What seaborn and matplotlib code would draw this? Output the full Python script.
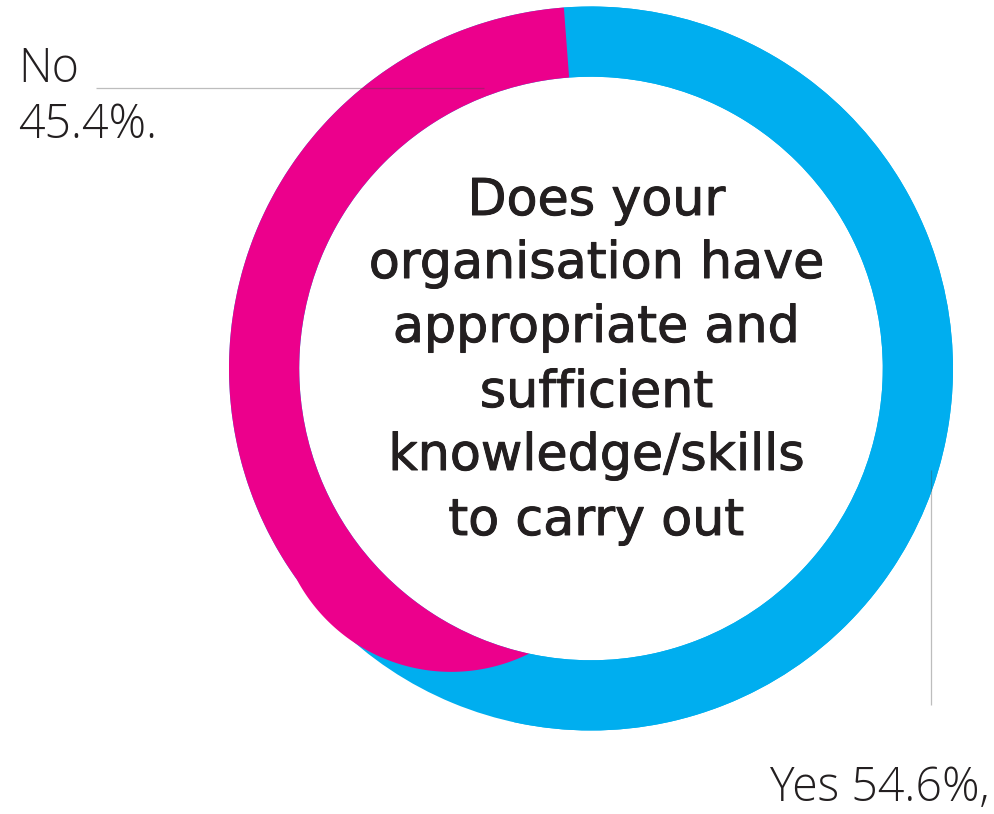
import numpy as np
import matplotlib
matplotlib.use("Agg")
import matplotlib.pyplot as plt
import matplotlib.patheffects as pe
from matplotlib.path import Path
import seaborn as sns

# Survey answers
categories = ["Yes", "No"]
shares = [54.6, 45.4]
slice_colors = ["#00AEEF", "#EC008C"]
answer_labels = ["Yes 54.6%,", "No", "45.4%."]
question_lines = [
    "Does your",
    "organisation have",
    "appropriate and",
    "sufficient",
    "knowledge/skills",
    "to carry out",
]

sns.set_theme(style="white")
plt.rcParams["font.family"] = ["DejaVu Sans"]

W, H, DPI = 994, 814, 100
CX, CY, RPX = 591.0, 368.5, 362.0   # ring centre and outer radius in pixels
TEXT = "#231F20"


def X(px):
    return (px - CX) / RPX


def Y(py):
    return (CY - py) / RPX


fig = plt.figure(figsize=(W / DPI, H / DPI), dpi=DPI)
fig.patch.set_facecolor("white")
ax = fig.add_axes([0, 0, 1, 1])

RING = 0.194
START = 94.3

# whole sample as the base ring
ax.pie([sum(shares)], colors=[slice_colors[0]], radius=1.0, startangle=START,
       wedgeprops=dict(width=RING, linewidth=0))
wedges, _ = ax.pie(shares, colors=slice_colors, radius=1.0, startangle=START,
                   counterclock=False, wedgeprops=dict(width=RING, linewidth=0))

# the "No" slice tapers off towards its end
no_wedge = wedges[1]
theta_end = START + 360.0 * shares[1] / sum(shares)
theta_kink = 215.6
tail_r = 0.484
inner = 1.0 - RING
p1 = np.array([np.cos(np.radians(theta_kink)), np.sin(np.radians(theta_kink))])
p2 = inner * np.array([np.cos(np.radians(theta_end)), np.sin(np.radians(theta_end))])
mid = (p1 + p2) / 2
d = np.linalg.norm(p2 - p1)
u = (p2 - p1) / d
n = np.array([-u[1], u[0]])
h = np.sqrt(tail_r ** 2 - (d / 2) ** 2)
c = min([mid + h * n, mid - h * n], key=np.linalg.norm)
a1 = np.degrees(np.arctan2(p1[1] - c[1], p1[0] - c[0]))
a2 = np.degrees(np.arctan2(p2[1] - c[1], p2[0] - c[0]))
while a2 < a1:
    a2 += 360
sec = np.radians(np.linspace(START - 3, theta_kink, 200))
tail = np.radians(np.linspace(a1, a2 + 25, 200))
pts = [(0.0, 0.0)]
pts += list(zip(np.cos(sec), np.sin(sec)))
pts += list(zip(c[0] + tail_r * np.cos(tail), c[1] + tail_r * np.sin(tail)))
pts.append((0.0, 0.0))
clip = Path(pts, closed=True)
no_wedge.set_radius(1.035)
no_wedge.set_width(1.035 - inner)
no_wedge.set_clip_on(True)
no_wedge.set_clip_path(clip, ax.transData)

# question in the middle of the ring
baselines = [215, 278, 342, 407, 470, 535]
for line, yb in zip(question_lines, baselines):
    ax.text(X(596.5), Y(yb), line, ha="center", va="baseline", fontsize=36.5,
            color=TEXT, family=["DejaVu Sans"],
            path_effects=[pe.withStroke(linewidth=0.7, foreground=TEXT)])

# answer labels with leader lines
lab_font = dict(family=["Open Sans", "DejaVu Sans"], fontweight="light", color=TEXT)
ax.text(X(18), Y(82), answer_labels[1], ha="left", va="baseline", fontsize=33.5, **lab_font)
ax.text(X(18), Y(138), answer_labels[2], ha="left", va="baseline", fontsize=33.5, **lab_font)
ax.text(X(990), Y(801), answer_labels[0], ha="right", va="baseline", fontsize=33.5, **lab_font)
ax.plot([X(96), X(484)], [Y(88.3), Y(88.3)], color="#444444", alpha=0.35, lw=0.9,
        solid_capstyle="butt", zorder=5)
ax.plot([X(931), X(931)], [Y(470), Y(705)], color="#444444", alpha=0.35, lw=0.9,
        solid_capstyle="butt", zorder=5)

ax.set_xlim(X(0), X(W))
ax.set_ylim(Y(H), Y(0))
ax.set_aspect("equal")
ax.axis("off")

fig.savefig("out.png", dpi=DPI, facecolor="white")
